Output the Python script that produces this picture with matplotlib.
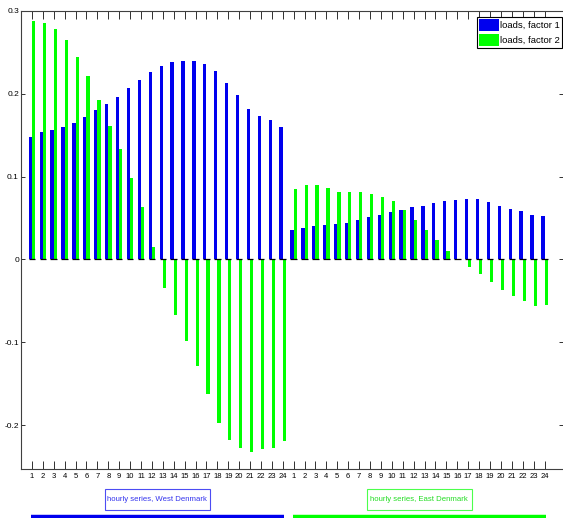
import matplotlib
matplotlib.use("Agg")
import matplotlib.pyplot as plt
import matplotlib.transforms as mtransforms
from matplotlib.patches import Rectangle
import numpy as np

plt.rcParams['font.family'] = ['Liberation Sans', 'DejaVu Sans']

# Hourly loadings of the two factors, West and East Denmark
hours = list(range(1, 25))
west_f1 = [0.148, 0.154, 0.156, 0.160, 0.165, 0.172, 0.181, 0.188, 0.196, 0.207, 0.217, 0.226,
           0.233, 0.238, 0.240, 0.240, 0.236, 0.227, 0.213, 0.198, 0.182, 0.173, 0.168, 0.160]
west_f2 = [0.288, 0.286, 0.278, 0.265, 0.245, 0.222, 0.193, 0.161, 0.133, 0.098, 0.063, 0.015,
           -0.035, -0.067, -0.098, -0.129, -0.163, -0.197, -0.218, -0.228, -0.232, -0.229, -0.228, -0.219]
east_f1 = [0.036, 0.038, 0.041, 0.042, 0.043, 0.044, 0.048, 0.051, 0.054, 0.057, 0.060, 0.063,
           0.065, 0.068, 0.070, 0.072, 0.073, 0.073, 0.069, 0.065, 0.061, 0.058, 0.054, 0.052]
east_f2 = [0.085, 0.090, 0.090, 0.086, 0.082, 0.082, 0.081, 0.079, 0.076, 0.070, 0.060, 0.048,
           0.035, 0.023, 0.010, -0.001, -0.009, -0.017, -0.027, -0.037, -0.044, -0.050, -0.056, -0.055]
series_names = ['loads, factor 1', 'loads, factor 2']
region_labels = ['hourly series, West Denmark', 'hourly series, East Denmark']

BLUE = '#0000ee'
GREEN = '#00ff00'

f1 = np.array(west_f1 + east_f1)
f2 = np.array(west_f2 + east_f2)
pos = np.arange(1, len(f1) + 1)
tick_labels = [str(h) for h in hours] * 2

W, H = 563, 518
fig = plt.figure(figsize=(W / 100, H / 100), dpi=100)
ax = fig.add_axes([21 / W, 1 - 469 / H, 541.5 / W, 458 / H])

bw = 0.3
ax.bar(pos - bw / 2, f1, width=bw, color=BLUE, linewidth=0, label=series_names[0])
ax.bar(pos + bw / 2, f2, width=bw, color=GREEN, linewidth=0, label=series_names[1])
ax.hlines(np.zeros_like(pos, dtype=float), pos - bw, pos + bw, colors='black', linewidth=0.9)

ax.set_xlim(0, 49.65)
ax.set_ylim(-0.253, 0.3)
ax.set_xticks(pos)
ax.set_xticklabels(tick_labels, fontsize=5.5)
ax.set_yticks([-0.2, -0.1, 0, 0.1, 0.2, 0.3])
ax.set_yticklabels(['-0.2', '-0.1', '0', '0.1', '0.2', '0.3'], fontsize=6)
ax.tick_params(axis='x', direction='in', length=6, width=0.7, top=True, pad=3, color='#303030')
ax.tick_params(axis='y', direction='in', length=3, width=0.7, right=True, pad=1.5, color='#303030')
for side in ('left', 'top', 'bottom'):
    ax.spines[side].set_color('#404040')
    ax.spines[side].set_linewidth(0.8)
ax.spines['right'].set_visible(False)

leg = ax.legend(loc='upper right', bbox_to_anchor=(562 / W, 1 - 17 / H),
                bbox_transform=fig.transFigure, borderaxespad=0, fontsize=6.8,
                handlelength=2.1, handleheight=1.5, handletextpad=0.1,
                labelspacing=0.35, borderpad=0.25, fancybox=False, framealpha=1,
                edgecolor='black')
leg.get_frame().set_linewidth(0.8)

# Region captions and bars under each half of the axis
trans = mtransforms.blended_transform_factory(ax.transData, fig.transFigure)
groups = [(pos[:24], BLUE, '#3333ee'), (pos[24:], GREEN, '#22dd22')]
for (gp, col, txtcol), label in zip(groups, region_labels):
    cx = (gp[0] + gp[-1]) / 2
    ax.plot([gp[0] - 0.1, gp[-1] + 0.1], [1 - 516.5 / H] * 2, transform=trans,
            color=col, linewidth=3.2, solid_capstyle='butt', clip_on=False)
    ax.text(cx, 1 - 499.5 / H, label, transform=trans, ha='center', va='center',
            fontsize=5.6, color=txtcol)
    box_w = 105 / 10.894
    ax.add_patch(Rectangle((cx - box_w / 2, 1 - 510 / H), box_w, 21 / H,
                           transform=trans, fill=False, edgecolor=col,
                           linewidth=0.8, alpha=0.7, clip_on=False))

fig.savefig('out.png', dpi=100)
